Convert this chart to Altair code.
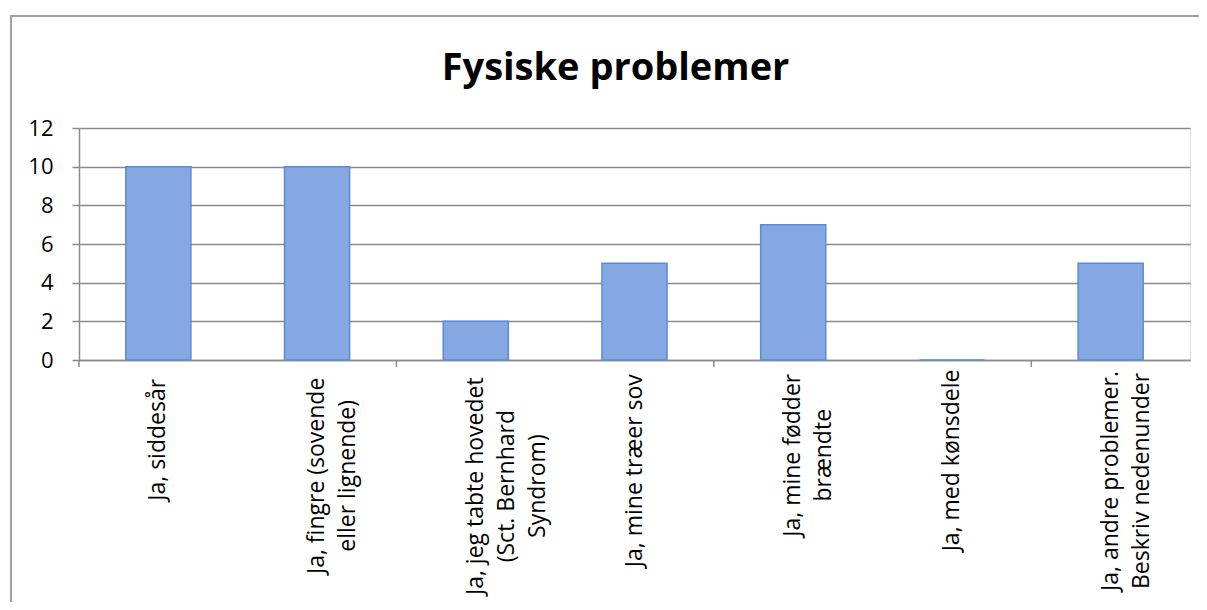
import altair as alt
import pandas as pd

# ---- data ----
categories = [
    "Ja, siddesår",
    "Ja, fingre (sovende|eller lignende)",
    "Ja, jeg tabte hovedet|(Sct. Bernhard|Syndrom)",
    "Ja, mine træer sov",
    "Ja, mine fødder|brændte",
    "Ja, med kønsdele",
    "Ja, andre problemer.|Beskriv nedenunder",
]
values = [10, 10, 2, 5, 7, 0, 5]
y_ticks = [0, 2, 4, 6, 8, 10, 12]
chart_title = ["Fysiske problemer"]

# ---- layout / style ----
W, H = 1111, 232
FONT = "Open Sans"
GRID = "#8a8a8a"
FRAME = "#a0a0a0"
BAR_FILL = "#85a8e3"
BAR_STROKE = "#5b8bd8"
LABEL_SIZE = 23
CHAR_W = 10.3  # approx. average glyph advance at LABEL_SIZE

df = pd.DataFrame({
    "cat": categories,
    "value": values,
    "idx": list(range(len(categories))),
    "maxlen": [max(len(s) for s in c.split("|")) for c in categories],
})

x_enc = alt.X(
    "cat:N", sort=categories,
    scale=alt.Scale(paddingInner=0, paddingOuter=0),
    axis=alt.Axis(labels=False, ticks=False, title=None, grid=False,
                  domain=True, domainColor=GRID, domainWidth=1.5),
)

frame = alt.Chart(pd.DataFrame({"a": [0]})).mark_rect(
    fillOpacity=0, stroke=FRAME, strokeWidth=2
).encode(
    x=alt.value(-68), x2=alt.value(1300), y=alt.value(-112), y2=alt.value(700)
)

title = alt.Chart(pd.DataFrame({"t": chart_title})).mark_text(
    font=FONT, fontSize=38, fontWeight="bold", color="black",
    align="center", baseline="alphabetic"
).encode(
    x=alt.value(W / 2 - 19), y=alt.value(-48), text="t:N"
)

bars = alt.Chart(df).mark_bar(
    width=alt.RelativeBandSize(0.41), fill=BAR_FILL, stroke=BAR_STROKE, strokeWidth=1.5
).encode(
    x=x_enc,
    y=alt.Y("value:Q", scale=alt.Scale(domain=[0, 12]),
            axis=alt.Axis(values=y_ticks, title=None, grid=True, gridColor=GRID,
                          gridWidth=1.5, domainColor=GRID, domainWidth=1.5,
                          tickColor=GRID, tickWidth=1.5, tickSize=7,
                          labelFont=FONT, labelFontSize=22, labelColor="black",
                          labelPadding=19)),
)

ticks = alt.Chart(df).transform_filter("datum.idx % 2 == 0").mark_rule(
    color=GRID, strokeWidth=1.5
).encode(
    x=alt.X("cat:N", sort=categories, bandPosition=0),
    y=alt.value(H), y2=alt.value(H + 7),
)

labels = alt.Chart(df).transform_calculate(
    ypix=f"{H} + 18 + datum.maxlen * {CHAR_W} / 2"
).mark_text(
    angle=270, align="center", baseline="middle", lineBreak="|",
    font=FONT, fontSize=LABEL_SIZE, lineHeight=31, color="black"
).encode(
    x=alt.X("cat:N", sort=categories),
    y=alt.Y("ypix:Q", scale=None, axis=None),
    text="cat:N",
)

chart = alt.layer(frame, title, bars, ticks, labels).resolve_scale(y="independent").properties(
    width=W, height=H,
    autosize=alt.AutoSizeParams(type="none"),
    padding={"left": 71, "top": 120, "right": 9, "bottom": 242},
).configure_view(strokeWidth=0).configure(background="white")

chart.save("out.html", embed_options={"renderer": "svg", "actions": False})
